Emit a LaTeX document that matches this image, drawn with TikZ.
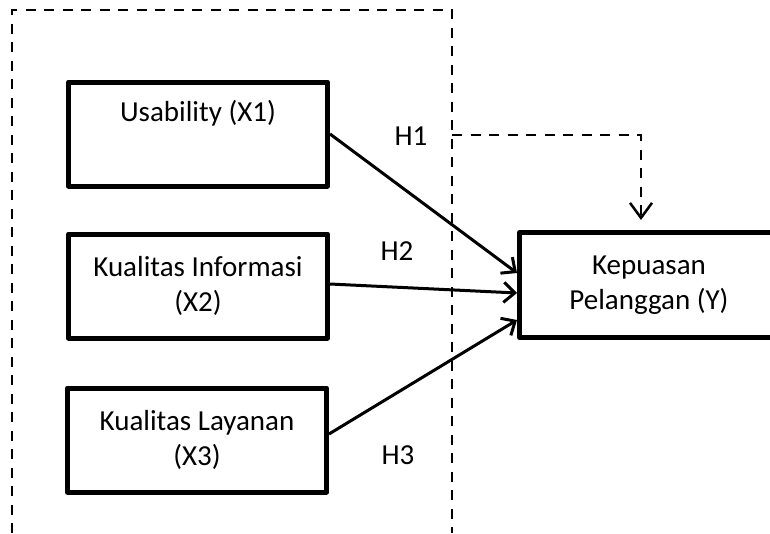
\documentclass[tikz,border=0pt]{standalone}
\usepackage{fontspec}
\setmainfont{Carlito}
\usetikzlibrary{arrows.meta}

\begin{document}
\begin{tikzpicture}[x=1pt,y=-1pt,
    varbox/.style={draw, line width=5pt, line join=round, minimum width=259pt,
        minimum height=104pt, align=center, font=\fontsize{29}{35}\selectfont},
    link/.style={line width=3pt, -{Straight Barb[length=11pt,width=20pt]}},
    dashline/.style={line width=2.5pt, dash pattern=on 10pt off 8.5pt},
    hlabel/.style={font=\fontsize{29}{35}\selectfont}]
    \path[use as bounding box, clip] (0,0) rectangle (770,533);
    % variables
    \node[varbox] (x1) at (198,134) {Usability (X1)\\ \strut};
    \node[varbox] (x2) at (198,286) {Kualitas Informasi\\(X2)};
    \node[varbox] (x3) at (197,440) {Kualitas Layanan\\(X3)};
    \node[varbox, minimum height=105pt] (y) at (649,285) {Kepuasan\\Pelanggan (Y)};
    % dashed frame
    \coordinate (fbl) at (12,533);
    \coordinate (ftl) at (12,10);
    \coordinate (ftr) at (452,10);
    \coordinate (fbr) at (452,533);
    \coordinate (h1s) at (452,135);
    \draw[dashline] (fbl) -- (ftl) -- (ftr) -- (fbr);
    \draw[dashline, -{Straight Barb[length=15pt,width=22pt]}] (h1s) -| ([xshift=-8pt,yshift=10pt]y.north);
    % hypotheses
    \draw[link] (x1.east) -- ([yshift=12pt]y.west);
    \draw[link] ([yshift=2pt]x2.east) -- ([yshift=-8pt]y.west);
    \draw[link] ([yshift=6pt]x3.east) -- ([yshift=-35pt]y.west);
    \node[hlabel] (h1) at (411,136) {H1};
    \node[hlabel] (h2) at (397,251) {H2};
    \node[hlabel] (h3) at (398,455) {H3};
\end{tikzpicture}
\end{document}
